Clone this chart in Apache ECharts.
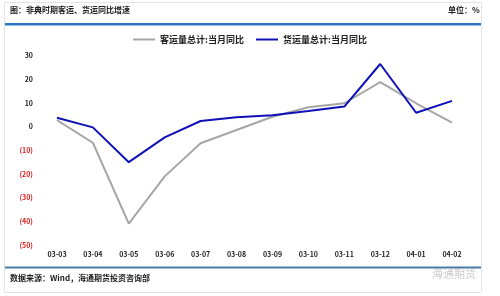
<!DOCTYPE html>
<html><head><meta charset="utf-8">
<script src="https://cdn.jsdelivr.net/npm/echarts@6/dist/echarts.min.js"></script>
<style>html,body{margin:0;padding:0;background:#fff}#c{width:500px;height:296px}</style>
</head><body><div id="c"></div>
<script>
const categories = ['03-03','03-04','03-05','03-06','03-07','03-08','03-09','03-10','03-11','03-12','04-01','04-02'];
const passengerYoY = [2.8, -6.8, -41, -21, -7, -1.4, 4.2, 8.2, 9.9, 18.8, 9.9, 1.7];
const freightYoY = [3.8, -0.3, -15, -4.5, 2.4, 4, 4.8, 6.6, 8.5, 26.5, 5.9, 10.9];
const seriesNames = ['客运量总计:当月同比', '货运量总计:当月同比'];
const titleText = '图：非典时期客运、货运同比增速';
const unitText = '单位：%';
const sourceText = '数据来源：Wind，海通期货投资咨询部';

const chart = echarts.init(document.getElementById('c'), null, {renderer:'canvas'});
const F = '"Noto Sans CJK SC", sans-serif';
chart.setOption({
  animation:false,
  textStyle:{fontFamily:F},
  graphic:[
    {type:'rect', shape:{x:4.5,y:2.5,width:477,height:290}, style:{fill:'none', stroke:'#e4e4e4', lineWidth:1}},
    {type:'text', left:10, top:6, style:{text:titleText, font:'bold 8px '+F, fill:'#222'}},
    {type:'text', left:448, top:6, style:{text:unitText, font:'bold 8px '+F, fill:'#222'}},
    {type:'rect', shape:{x:5,y:23,width:476,height:2.5}, style:{fill:'#2e78c2'}},
    {type:'rect', shape:{x:5,y:266.5,width:476,height:2}, style:{fill:'#4a7aa3'}},
    {type:'text', left:10, top:274, style:{text:sourceText, font:'bold 8px '+F, fill:'#222'}},
    {type:'text', left:432, top:268, style:{text:'海通期货', font:'11px '+F, fill:'rgba(180,180,180,0.7)'}}
  ],
  legend:{
    top:30, left:'center', itemWidth:22, itemHeight:2, itemGap:12,
    icon:'rect',
    textStyle:{fontSize:9, fontWeight:'bold', color:'#222', fontFamily:F},
    data:seriesNames
  },
  grid:{left:39, right:30, top:55.7, bottom:51, containLabel:false},
  xAxis:{
    type:'category', data:categories, boundaryGap:true,
    axisLine:{show:false}, axisTick:{show:false},
    axisLabel:{fontSize:7, fontWeight:'bold', color:'#222', margin:6, interval:0}
  },
  yAxis:{
    type:'value', min:-50, max:30, interval:10,
    splitLine:{show:false}, axisLine:{show:false}, axisTick:{show:false},
    axisLabel:{
      margin:6, fontSize:7, fontWeight:'bold',
      formatter:function(v){ return v<0 ? '{n|('+(-v)+')}' : '{p|'+v+'}'; },
      rich:{n:{color:'#e02020', fontSize:7, fontWeight:'bold'}, p:{color:'#222', fontSize:7, fontWeight:'bold'}}
    }
  },
  series:[
    {name:seriesNames[0], type:'line', data:passengerYoY, symbol:'none', lineStyle:{color:'#a6a6a6', width:2}, itemStyle:{color:'#a6a6a6'}},
    {name:seriesNames[1], type:'line', data:freightYoY, symbol:'none', lineStyle:{color:'#1010b8', width:2}, itemStyle:{color:'#1010b8'}}
  ]
});
</script></body></html>
